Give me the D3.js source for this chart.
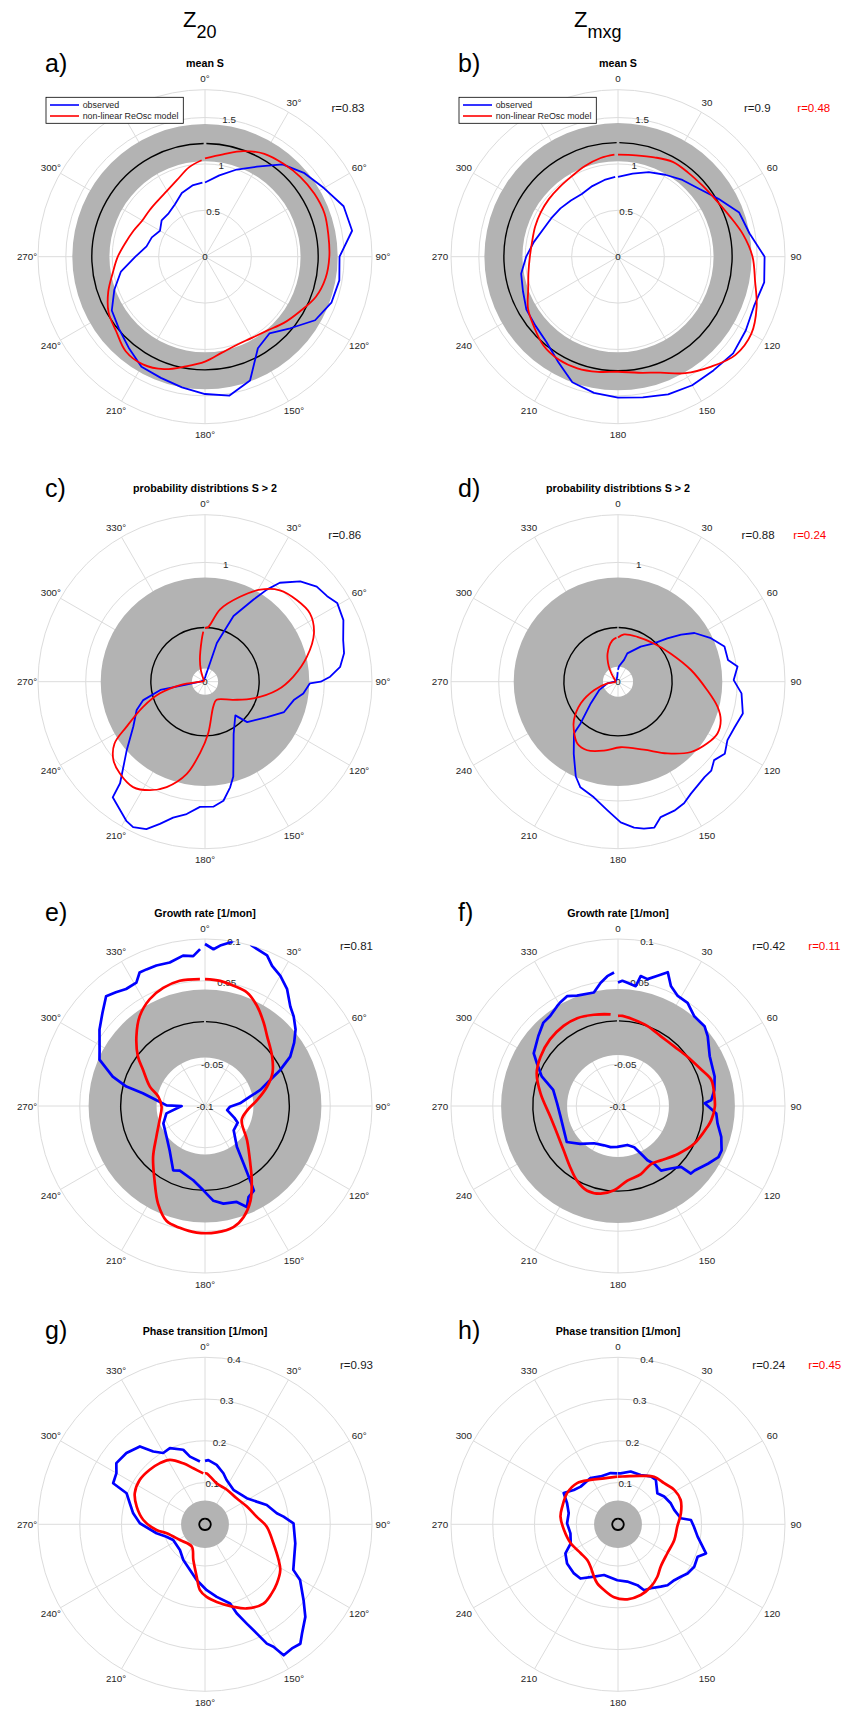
<!DOCTYPE html>
<html>
<head>
<meta charset="utf-8">
<script src="https://cdn.jsdelivr.net/npm/d3@7"></script>
<style>
body { margin: 0; background: #fff; }
text { font-family: "Liberation Sans", Arial, Helvetica, sans-serif; }
</style>
</head>
<body>
<svg id="fig" width="854" height="1709"></svg>
<script>
// curves are [theta in degrees clockwise from top, value]
var aObs = [[0,0.80],[10,0.89],[20,1.00],[30,1.12],[40,1.30],[50,1.40],[60,1.48],[70,1.59],[80,1.61],[90,1.45],[100,1.47],[110,1.45],[120,1.37],[130,1.20],[140,1.08],[150,1.14],[160,1.42],[170,1.52],[180,1.48],[190,1.43],[200,1.39],[210,1.37],[220,1.28],[230,1.21],[240,1.16],[250,1.04],[260,0.92],[270,0.75],[280,0.64],[290,0.61],[300,0.56],[310,0.61],[320,0.61],[330,0.65],[340,0.73],[350,0.78],[358,0.80]];
var aMod = [[0,1.06],[10,1.12],[20,1.21],[30,1.28],[40,1.31],[50,1.34],[60,1.36],[70,1.37],[80,1.35],[90,1.34],[100,1.32],[110,1.27],[120,1.18],[130,1.11],[140,1.04],[150,1.01],[160,1.01],[170,1.05],[180,1.13],[190,1.20],[200,1.29],[210,1.34],[220,1.33],[230,1.25],[240,1.20],[250,1.11],[260,1.01],[270,0.94],[280,0.87],[290,0.82],[300,0.78],[310,0.78],[320,0.79],[330,0.82],[340,0.88],[350,0.98],[358,1.04]];

var bObs = [[0,0.86],[10,0.91],[20,0.97],[30,1.02],[40,1.08],[50,1.14],[60,1.25],[70,1.39],[80,1.44],[90,1.58],[100,1.60],[110,1.56],[120,1.59],[130,1.62],[140,1.60],[150,1.60],[160,1.58],[170,1.54],[180,1.52],[190,1.49],[200,1.44],[210,1.30],[220,1.20],[230,1.16],[240,1.14],[250,1.09],[260,1.06],[270,0.99],[280,0.92],[290,0.86],[300,0.83],[310,0.81],[320,0.79],[330,0.78],[340,0.81],[350,0.84],[358,0.86]];
var bMod = [[0,1.10],[10,1.11],[20,1.14],[30,1.18],[40,1.18],[50,1.19],[60,1.22],[70,1.28],[80,1.37],[90,1.45],[100,1.50],[110,1.59],[120,1.66],[130,1.65],[140,1.55],[150,1.45],[160,1.33],[170,1.27],[180,1.24],[190,1.26],[200,1.28],[210,1.28],[220,1.25],[230,1.18],[240,1.12],[250,1.03],[260,0.98],[270,0.95],[280,0.94],[290,0.95],[300,0.96],[310,0.97],[320,0.98],[330,1.00],[340,1.04],[350,1.08],[358,1.10]];

var cObs = [[0,0.03],[8,0.06],[15,0.16],[17,0.34],[23.5,0.60],[30.6,0.80],[33.9,0.93],[37.1,1.04],[43.5,1.16],[49.6,1.23],[55,1.25],[59.2,1.29],[66,1.27],[73.2,1.21],[78.4,1.19],[83.7,1.14],[87.7,1.05],[90,0.97],[90.9,0.88],[96.8,0.83],[101.7,0.76],[111,0.71],[119.6,0.60],[133.8,0.49],[138,0.38],[151.3,0.50],[163.4,0.83],[166.6,0.91],[171.2,1.01],[176.2,1.05],[182.3,1.05],[187.9,1.12],[193.2,1.17],[197.6,1.25],[201.7,1.33],[206.3,1.36],[209.5,1.34],[218.6,1.24],[219.9,1.11],[228.9,0.87],[237.9,0.71],[247.5,0.62],[253.4,0.54],[259.5,0.38],[261,0.18],[270,0.04],[300,0.02],[330,0.02],[358,0.03]];
var cMod = [[0,0.45],[3.5,0.46],[11.8,0.62],[22.4,0.77],[31,0.90],[39.3,0.99],[48.3,1.03],[56.9,1.05],[66,1.00],[76.2,0.88],[86.8,0.74],[96.6,0.61],[109,0.43],[122.9,0.28],[147.5,0.18],[161.6,0.22],[176.3,0.43],[184,0.60],[191.3,0.79],[200,0.94],[206.9,1.02],[214.3,1.07],[222.8,1.05],[229.5,1.01],[235.6,0.92],[240.1,0.76],[247.9,0.56],[255.5,0.39],[262.4,0.21],[270,0.04],[300,0.01],[330,0.03],[340,0.10],[347,0.19],[355.4,0.35],[358,0.42]];

var dObs = [[0,0.10],[3.8,0.13],[15.5,0.19],[18.2,0.25],[32.9,0.35],[43.2,0.44],[48.7,0.55],[53.3,0.66],[57.5,0.76],[64.9,0.86],[71.7,0.94],[78.8,0.94],[82.8,1.01],[89.2,0.97],[95.4,1.04],[104.3,1.08],[111.2,1.05],[118.1,1.04],[124,1.08],[129.2,1.04],[133.6,1.08],[137.8,1.08],[146.9,1.12],[151.5,1.16],[156.4,1.18],[162.5,1.19],[166,1.26],[170,1.25],[173.7,1.23],[178.9,1.18],[184.8,1.08],[191.8,0.99],[199.6,0.94],[204,0.87],[211.5,0.71],[220.4,0.57],[221.9,0.47],[231.6,0.29],[246.3,0.17],[261,0.09],[270,0.03],[320,0.02],[350,0.04],[358,0.08]];
var dMod = [[0,0.37],[7.3,0.40],[23.3,0.41],[43.2,0.44],[61.7,0.50],[80.9,0.62],[95.3,0.75],[104.1,0.86],[110.6,0.92],[117.5,0.94],[124.6,0.91],[133.9,0.85],[145.5,0.73],[159.2,0.61],[177.7,0.55],[191.6,0.59],[204.2,0.63],[213.4,0.62],[222.3,0.55],[229,0.49],[239.9,0.36],[250.9,0.21],[261,0.09],[270,0.02],[300,0.03],[320,0.08],[329,0.15],[339.4,0.25],[352.3,0.35],[358,0.37]];

var eObs = [[0,0.094],[3.1,0.088],[5.4,0.093],[8.7,0.098],[9.8,0.101],[12,0.105],[15,0.104],[16.3,0.100],[22.4,0.095],[25.6,0.086],[30.1,0.080],[35.1,0.071],[40.6,0.057],[44.7,0.051],[49.8,0.042],[54.6,0.031],[59.9,0.018],[64.4,0.000],[68.2,-0.016],[73.8,-0.031],[78.3,-0.045],[85.6,-0.058],[91.5,-0.070],[100.5,-0.073],[112,-0.062],[117,-0.056],[130.3,-0.055],[142,-0.038],[146.2,-0.017],[148.7,0.004],[150,0.017],[154.5,0.021],[157.5,0.031],[161.7,0.021],[169.3,0.019],[174.9,0.014],[181.1,0.001],[189,-0.010],[201.3,-0.017],[206.3,-0.014],[218.5,-0.032],[231.3,-0.041],[247.4,-0.046],[259.2,-0.053],[270,-0.072],[271,-0.054],[277,-0.041],[281.6,-0.024],[283.9,-0.003],[287.7,0.016],[293.7,0.038],[298,0.043],[305.9,0.056],[312.3,0.066],[318,0.077],[321.9,0.073],[326,0.069],[330.9,0.069],[333.9,0.078],[336.8,0.078],[340.9,0.078],[346.2,0.077],[351.7,0.082],[355.5,0.080],[358.2,0.088]];
var eMod = [[0,0.052],[6.9,0.051],[13.4,0.048],[20.3,0.045],[27.5,0.035],[35.2,0.022],[41.6,0.012],[53.5,0.000],[63.9,-0.010],[72.6,-0.022],[83.4,-0.037],[95.5,-0.049],[110.9,-0.053],[129.2,-0.035],[141.9,-0.012],[147.8,0.005],[154.4,0.026],[160.9,0.041],[166.8,0.049],[174.7,0.052],[183.8,0.052],[191.7,0.049],[198.6,0.045],[205.6,0.030],[214,0.008],[225.6,-0.013],[237.6,-0.031],[252.7,-0.043],[269,-0.048],[281.3,-0.043],[289.4,-0.030],[300.3,-0.014],[306.5,0.000],[315.4,0.017],[324,0.033],[332.6,0.044],[340.5,0.050],[348.6,0.053],[357.7,0.052]];

var fObs = [[0,0.048],[2,0.050],[4.4,0.048],[8.4,0.045],[9.9,0.058],[13.1,0.056],[16.9,0.063],[20.4,0.071],[23.8,0.057],[28.5,0.050],[34,0.049],[40.4,0.041],[47.3,0.041],[52.2,0.036],[61.5,0.025],[73,0.021],[80.5,0.017],[86.3,0.012],[88.2,0.004],[94.3,0.018],[99.9,0.021],[106.6,0.029],[113.2,0.035],[117,0.035],[122.7,0.028],[130.1,0.020],[132.8,0.019],[134,0.005],[139.8,-0.002],[146.3,-0.007],[147.9,-0.018],[151.5,-0.026],[154.4,-0.037],[158.5,-0.047],[166.5,-0.052],[181,-0.051],[190.2,-0.050],[199.7,-0.050],[212.7,-0.047],[225,-0.036],[234.9,-0.025],[246,-0.029],[259.5,-0.030],[272.5,-0.027],[284,-0.020],[291.2,-0.002],[297.9,0.010],[302,0.019],[311.3,0.027],[318.2,0.034],[323,0.035],[328.6,0.040],[330.8,0.042],[335.1,0.045],[339.6,0.041],[348,0.039],[352,0.049],[355.3,0.056],[358.3,0.060]];
var fMod = [[0,0.008],[2.8,0.008],[10.5,0.005],[20.3,0.002],[31.6,-0.002],[43.3,-0.002],[54.6,0.002],[66.5,0.009],[74.3,0.016],[84.4,0.016],[90.4,0.016],[98.6,0.013],[103,0.010],[116.2,0.002],[128.6,-0.008],[141.7,-0.017],[150.3,-0.020],[161.4,-0.014],[172.8,-0.010],[182.7,0.001],[191.2,0.007],[200,0.008],[208.8,0.002],[218,-0.007],[230.8,-0.016],[245.7,-0.020],[261,-0.018],[279.3,-0.006],[292,0.005],[302.5,0.010],[314.4,0.014],[325.8,0.016],[335.1,0.016],[345.2,0.013],[355.4,0.010]];

var gObs = [[0,0.152],[3,0.154],[11.1,0.145],[19.8,0.130],[26,0.118],[39.5,0.107],[58,0.118],[66.3,0.135],[72.6,0.155],[81.3,0.174],[84.4,0.189],[89.4,0.212],[101.9,0.221],[117.3,0.238],[120.4,0.264],[127.6,0.298],[132.7,0.327],[138.4,0.350],[141.4,0.366],[145,0.363],[149,0.366],[150.8,0.336],[152.6,0.322],[154.6,0.290],[157.2,0.258],[160.4,0.226],[162.4,0.199],[170.8,0.176],[178.5,0.158],[188.5,0.135],[198.2,0.115],[211.3,0.100],[224.3,0.086],[243.7,0.085],[252.2,0.097],[259.5,0.118],[270.9,0.156],[278.7,0.174],[285.6,0.187],[291.6,0.202],[294.1,0.241],[300,0.245],[304.6,0.258],[312.2,0.254],[320.1,0.243],[324.6,0.214],[329.6,0.198],[335.3,0.201],[343.7,0.186],[347.5,0.166],[355.4,0.151]];
var gMod = [[0,0.122],[1.9,0.122],[15.9,0.102],[32.3,0.098],[50.6,0.098],[67,0.109],[81.6,0.125],[92.2,0.148],[105.5,0.170],[115.9,0.196],[121.3,0.211],[129.5,0.223],[136,0.230],[143.6,0.236],[153.6,0.225],[161,0.209],[171.4,0.188],[178.7,0.174],[184.4,0.158],[189,0.127],[198.1,0.090],[210.8,0.062],[238,0.071],[256.8,0.094],[263.3,0.117],[274,0.148],[284.5,0.169],[293.9,0.184],[304.3,0.189],[314.6,0.186],[323.6,0.182],[331.4,0.176],[340.4,0.155],[348.2,0.137],[358.1,0.122]];

var hObs = [[0,0.122],[3,0.122],[13.5,0.130],[24.7,0.130],[34.4,0.139],[40.4,0.140],[51.8,0.120],[59,0.129],[68.3,0.136],[75.6,0.139],[84.5,0.151],[86.6,0.175],[91.8,0.182],[98.8,0.193],[108.3,0.222],[112.2,0.206],[119.1,0.209],[125.3,0.204],[129.9,0.196],[134.8,0.190],[140.9,0.188],[145.6,0.181],[152.9,0.172],[158.4,0.170],[162.3,0.153],[170.8,0.139],[180.7,0.134],[195.4,0.126],[204.6,0.138],[214.7,0.158],[221.9,0.158],[232.4,0.154],[241,0.144],[248.1,0.122],[259.2,0.116],[271.1,0.122],[282.7,0.121],[292.5,0.132],[299.9,0.150],[307.9,0.134],[315.3,0.127],[329.3,0.129],[340,0.122],[351.8,0.124],[359.3,0.122]];
var hMod = [[0,0.114],[5.2,0.115],[25.1,0.128],[37.1,0.143],[48.3,0.148],[58.5,0.158],[68.8,0.161],[80,0.153],[92.3,0.142],[105.6,0.140],[120.4,0.137],[134.8,0.144],[143.1,0.157],[152.3,0.169],[162.2,0.178],[172.9,0.181],[183.1,0.175],[192,0.161],[199.3,0.150],[204.6,0.138],[212.9,0.121],[220.7,0.113],[232.2,0.113],[248.1,0.122],[264,0.130],[277.6,0.139],[287.6,0.140],[301.5,0.143],[315.2,0.139],[328.3,0.125],[343.1,0.115],[359.2,0.114]];

// grey band = spread of observed, black circle = its mean
var bandLo = [1.03, 1.03, 0.11, 0.126, -0.042, -0.039, 0, 0];
var bandHi = [1.43, 1.44, 0.874, 0.874, 0.0394, 0.040, 0.057, 0.057];
var meanLine = [1.22, 1.23, 0.454, 0.454, 0.001, 0.002, 0.0137, 0.0137];

var letters = ["a)", "b)", "c)", "d)", "e)", "f)", "g)", "h)"];
var titles = ["mean S", "mean S", "probability distribtions S > 2", "probability distribtions S > 2",
  "Growth rate [1/mon]", "Growth rate [1/mon]", "Phase transition [1/mon]", "Phase transition [1/mon]"];
var rLims = [[0, 1.8], [0, 1.8], [0, 1.4], [0, 1.4], [-0.1, 0.1], [-0.1, 0.1], [0, 0.4], [0, 0.4]];
var rTicks = [[0, 0.5, 1, 1.5], [0, 0.5, 1, 1.5], [0, 0.5, 1], [0, 0.5, 1],
  [-0.1, -0.05, 0, 0.05, 0.1], [-0.1, -0.05, 0, 0.05, 0.1], [0, 0.1, 0.2, 0.3, 0.4], [0, 0.1, 0.2, 0.3, 0.4]];
var thetaTicks = [0, 30, 60, 90, 120, 150, 180, 210, 240, 270, 300, 330];
var corrObs = ["0.83", "0.9", "0.86", "0.88", "0.81", "0.42", "0.93", "0.24"];
var corrMod = [null, "0.48", null, "0.24", null, "0.11", null, "0.45"];
var legendNames = ["observed", "non-linear ReOsc model"];
var columnVar = [["Z", "20"], ["Z", "mxg"]];

var obsSeries = [aObs, bObs, cObs, dObs, eObs, fObs, gObs, hObs];
var modSeries = [aMod, bMod, cMod, dMod, eMod, fMod, gMod, hMod];

// layout
var colX = [205, 618];
var rowY = [256.7, 681.7, 1106, 1524.3];
var R = 167;
var corrY = [-148.4, -148.4, -146.7, -146.7, -160, -160, -159.3, -159.3];
var corrX = [[126.5, 0], [126, 179.3], [123.3, 0], [123.6, 175.3], [135, 0], [134.3, 190.3], [135, 0], [134.3, 190.3]];

var GRID = "#dcdcdc", TXT = "#262626";
var svg = d3.select("#fig");
var defs = svg.append("defs");

// column headers
columnVar.forEach(function(v, c) {
  var t = svg.append("text").attr("x", c == 0 ? 183 : 574).attr("y", 27)
    .attr("font-size", 22).attr("fill", "#000").text(v[0]);
  t.append("tspan").attr("dy", 11).attr("font-size", 18).text(v[1]);
});

for (var i = 0; i < 8; i++) drawPanel(i);

function drawPanel(i) {
  var cx = colX[i % 2], cy = rowY[Math.floor(i / 2)];
  var deg = (i % 2 == 0);
  var hasLegend = i < 2;
  var lim = rLims[i];
  var rs = d3.scaleLinear().domain(lim).range([0, R]);
  var g = svg.append("g").attr("transform", "translate(" + cx + "," + cy + ")");

  // rings
  var rings = rTicks[i].filter(function(t) { return t > lim[0] && t < lim[1]; }).concat([lim[1]]);
  g.selectAll("circle.ring").data(rings).enter().append("circle")
    .attr("r", function(d) { return rs(d); })
    .attr("fill", "none").attr("stroke", GRID).attr("stroke-width", 1);

  // spokes
  g.selectAll("line.spoke").data(thetaTicks).enter().append("line")
    .attr("x1", 0).attr("y1", 0)
    .attr("x2", function(d) { return R * Math.sin(d * Math.PI / 180); })
    .attr("y2", function(d) { return -R * Math.cos(d * Math.PI / 180); })
    .attr("stroke", GRID).attr("stroke-width", 1);

  // theta labels (330 sits under the legend in the top row)
  var thLab = thetaTicks.filter(function(t) { return !(hasLegend && t == 330); });
  g.selectAll("text.th").data(thLab).enter().append("text")
    .attr("x", function(d) { return 178 * Math.sin(d * Math.PI / 180); })
    .attr("y", function(d) { return -178 * Math.cos(d * Math.PI / 180); })
    .attr("text-anchor", "middle").attr("dominant-baseline", "central")
    .attr("font-size", 9.8).attr("fill", TXT)
    .text(function(d) { return deg ? d + "\u00b0" : d; });

  // r labels at 10 deg
  var ra = 10 * Math.PI / 180;
  g.selectAll("text.rt").data(rTicks[i]).enter().append("text")
    .attr("x", function(d) { return rs(d) * Math.sin(ra); })
    .attr("y", function(d) { return -rs(d) * Math.cos(ra); })
    .attr("text-anchor", "middle").attr("dominant-baseline", "central")
    .attr("font-size", 9.8).attr("fill", TXT)
    .text(function(d) { return String(d); });

  // grey band
  var band = d3.arc().innerRadius(rs(bandLo[i])).outerRadius(rs(bandHi[i]))
    .startAngle(0).endAngle(2 * Math.PI);
  g.append("path").attr("d", band()).attr("fill", "#b3b3b3");

  // mean circle, open at the top
  var rr = rs(meanLine[i]), gap = 0.012;
  var pth = d3.path();
  pth.moveTo(rr * Math.sin(gap), -rr * Math.cos(gap));
  pth.arc(0, 0, rr, -Math.PI / 2 + gap, 3 * Math.PI / 2 - gap);
  g.append("path").attr("d", pth.toString()).attr("fill", "none")
    .attr("stroke", "#000").attr("stroke-width", i < 6 ? 1.4 : 1.8);

  // curves
  defs.append("clipPath").attr("id", "clip" + i).append("circle").attr("r", R);
  var lw = i < 4 ? 1.8 : 2.7;
  var lineObs = d3.lineRadial()
    .angle(function(d) { return d[0] * Math.PI / 180; })
    .radius(function(d) { return rs(d[1]); });
  var lineMod = d3.lineRadial()
    .angle(function(d) { return d[0] * Math.PI / 180; })
    .radius(function(d) { return rs(d[1]); })
    .curve(d3.curveCatmullRom.alpha(0.5));
  var cg = g.append("g").attr("clip-path", "url(#clip" + i + ")");
  cg.append("path").attr("d", lineObs(obsSeries[i])).attr("fill", "none")
    .attr("stroke", "#0000ff").attr("stroke-width", lw).attr("stroke-linejoin", "round");
  cg.append("path").attr("d", lineMod(modSeries[i])).attr("fill", "none")
    .attr("stroke", "#ff0000").attr("stroke-width", lw).attr("stroke-linejoin", "round");

  // panel title and letter
  g.append("text").attr("x", 0).attr("y", -193.4).attr("text-anchor", "middle")
    .attr("dominant-baseline", "central").attr("font-size", 10.7).attr("font-weight", "bold")
    .attr("fill", "#000").text(titles[i]);
  g.append("text").attr("x", -160).attr("y", -185).attr("font-size", 25)
    .attr("fill", "#000").text(letters[i]);

  // correlations
  g.append("text").attr("x", corrX[i][0]).attr("y", corrY[i]).attr("dominant-baseline", "central")
    .attr("font-size", 11.5).attr("fill", "#1a1a1a").text("r=" + corrObs[i]);
  if (corrMod[i]) {
    g.append("text").attr("x", corrX[i][1]).attr("y", corrY[i]).attr("dominant-baseline", "central")
      .attr("font-size", 11.5).attr("fill", "#ff0000").text("r=" + corrMod[i]);
  }

  // legend in the top row
  if (hasLegend) {
    var lg = g.append("g").attr("transform", "translate(-159,-159.4)");
    lg.append("rect").attr("width", 137.3).attr("height", 26)
      .attr("fill", "#fff").attr("stroke", "#000").attr("stroke-width", 0.8);
    legendNames.forEach(function(n, k) {
      var y = 7.7 + k * 11;
      lg.append("line").attr("x1", 4).attr("x2", 33).attr("y1", y).attr("y2", y)
        .attr("stroke", k == 0 ? "#0000ff" : "#ff0000").attr("stroke-width", 1.6);
      lg.append("text").attr("x", 36.7).attr("y", y).attr("dominant-baseline", "central")
        .attr("font-size", 8.9).attr("fill", TXT).text(n);
    });
  }
}
</script>
</body>
</html>
